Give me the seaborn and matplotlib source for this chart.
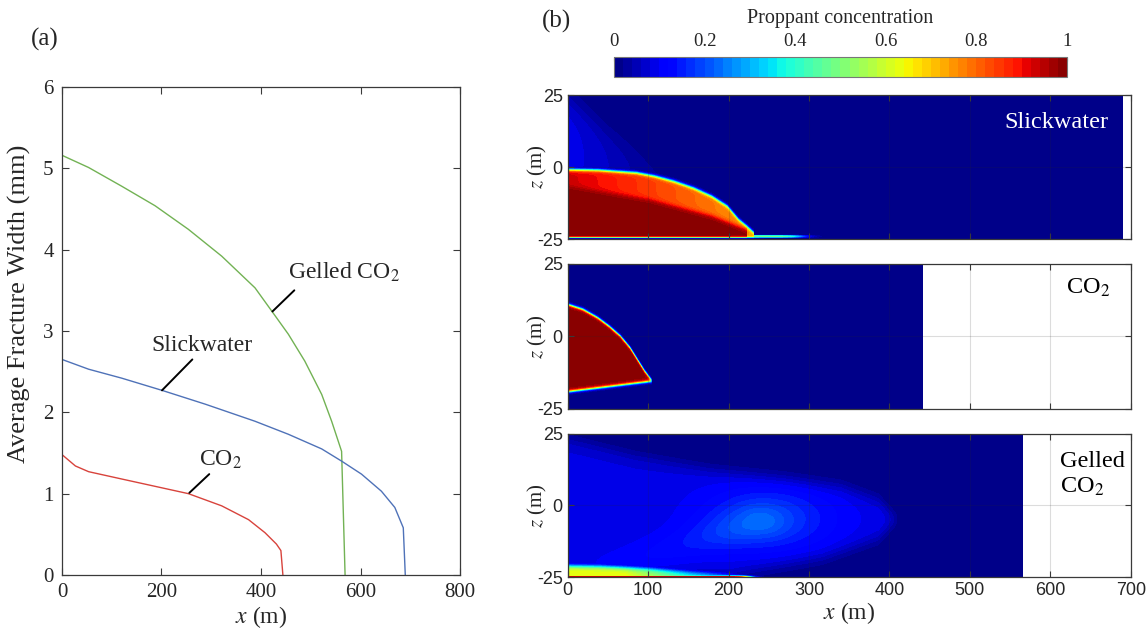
import numpy as np
import pandas as pd
import matplotlib
matplotlib.use("Agg")
import matplotlib.pyplot as plt
import seaborn as sns

# ---------------- panel (a) data ----------------
gel_x = [0, 53.5, 120, 187, 254, 321, 388, 421, 455, 488, 522, 542, 555, 562, 569]
gel_w = [5.16, 5.01, 4.78, 4.54, 4.25, 3.92, 3.53, 3.25, 2.96, 2.63, 2.22, 1.89, 1.65, 1.52, 0.0]
slick_x = [0, 53.5, 120, 201, 288, 388, 455, 522, 562, 602, 642, 669, 686, 690]
slick_w = [2.65, 2.53, 2.42, 2.27, 2.10, 1.89, 1.73, 1.55, 1.40, 1.24, 1.03, 0.83, 0.58, 0.0]
co2_x = [0, 27, 53.5, 120, 187, 254, 321, 375, 408, 431, 440, 444]
co2_w = [1.48, 1.34, 1.27, 1.18, 1.09, 1.00, 0.85, 0.68, 0.52, 0.38, 0.30, 0.0]

series_names = ["Gelled CO$_2$", "Slickwater", "CO$_2$"]
series_colors = ["#72b254", "#4f72b8", "#d8433c"]
label_xy = [(455, 3.72), (281, 2.82), (319, 1.41)]
leader_x = [[467, 423], [262, 201], [296, 256]]
leader_y = [[3.50, 3.24], [2.65, 2.27], [1.24, 1.01]]

# ---------------- panel (b) data ----------------
frac_len = [690, 441, 565]              # fracture lengths (m) in (b)
# slickwater proppant bank
sw_top_x = [0, 38, 85, 108, 132, 156, 179, 198, 205, 212, 222, 231]
sw_top_z = [-1.0, -1.2, -2.1, -3.3, -5.1, -7.4, -10.3, -13.7, -16.0, -18.3, -20.6, -22.9]
sw_core_x = [0, 101, 179, 222]
sw_core_z = [-6.8, -11.4, -17.1, -21.8]
sw_band_x = [0, 231]
sw_band_c = [0.93, 0.74]
sw_wedge_x = [0, 50, 100, 140]
sw_wedge_z = [24, 12, 3, -1]
# CO2 proppant bank
co_top_x = [0, 18.6, 37, 51, 65, 77, 86, 95, 104]
co_top_z = [10.9, 9.2, 6.3, 3.4, 0.0, -4.0, -8.0, -12.0, -15.3]
co_bot_x = [0, 104]
co_bot_z = [-18.9, -15.3]
# gelled CO2 suspended plume
ge_up_x = [0, 84, 177, 270, 340, 386, 409]
ge_up_z = [22.9, 17.1, 12.5, 9.6, 6.8, 2.1, -4.8]
ge_lo_x = [0, 200, 223, 316, 386, 409]
ge_lo_z = [-25, -25, -23.3, -18.6, -11.7, -4.8]
ge_plume_c = 0.085
ge_blob = dict(x=250, z=-4.5, sx=85, sz=12, c=0.095)
ge_tongue = dict(x0=40, z0=-23, x1=235, z1=-6, w=6.0, c=0.06)
ge_bed_x = [0, 40, 100, 150, 200, 230]
ge_bed_h = [3.8, 3.6, 2.8, 1.8, 0.9, 0.0]
ge_bed_cx = [0, 70, 110, 150, 200, 230]
ge_bed_c = [0.64, 0.64, 0.52, 0.38, 0.25, 0.1]

cb_ticks = [0, 0.2, 0.4, 0.6, 0.8, 1]
cb_labels = ["0", "0.2", "0.4", "0.6", "0.8", "1"]
panel_names = ["Slickwater", "CO$_2$", "Gelled\nCO$_2$"]

# ---------------- style ----------------
sns.set_style("ticks")
plt.rcParams["font.family"] = ["Liberation Serif", "DejaVu Serif"]
plt.rcParams["mathtext.fontset"] = "stix"
SANS = ["Liberation Sans", "DejaVu Sans"]
EDGE = "#3a3a3a"

fig = plt.figure(figsize=(11.48, 6.34), dpi=100)

# ---------------- panel (a) ----------------
axa = fig.add_axes([0.054, 0.0931, 0.3467, 0.7697])
frames = [pd.DataFrame({"x": gel_x, "w": gel_w}),
          pd.DataFrame({"x": slick_x, "w": slick_w}),
          pd.DataFrame({"x": co2_x, "w": co2_w})]
for df, col in zip(frames, series_colors):
    sns.lineplot(data=df, x="x", y="w", ax=axa, color=col, lw=1.0,
                 sort=False, estimator=None)
for name, (tx, ty), lx, ly in zip(series_names, label_xy, leader_x, leader_y):
    ha = "left" if name.startswith("Gelled") else "center"
    axa.text(tx, ty, name, ha=ha, va="center", fontsize=17)
    axa.plot(lx, ly, color="k", lw=1.4)
axa.set_xlim(0, 800)
axa.set_ylim(0, 6)
axa.set_xticks(range(0, 801, 200))
axa.set_yticks(range(0, 7))
axa.tick_params(direction="in", top=True, right=True, length=5,
                labelsize=15, color=EDGE, pad=6)
for s in axa.spines.values():
    s.set_color(EDGE)
    s.set_linewidth(0.9)
axa.set_xlabel("$x$ (m)", fontsize=17, labelpad=1)
axa.set_ylabel("Average Fracture Width (mm)", fontsize=19)
axa.yaxis.set_label_coords(-0.078, 0.555)
fig.text(0.039, 0.937, "(a)", fontsize=18, ha="center", va="center")
fig.text(0.485, 0.966, "(b)", fontsize=18, ha="center", va="center")

# ---------------- panel (b) fields ----------------
xg = np.linspace(0, 700, 1401)
zg = np.linspace(-25, 25, 401)
X, Z = np.meshgrid(xg, zg)


def sig(t):
    return 1.0 / (1.0 + np.exp(-np.clip(t, -60, 60)))


# slickwater
zt = np.interp(X, sw_top_x, sw_top_z, right=-40)
zc = np.interp(X, sw_core_x, sw_core_z, right=-40)
band = np.interp(X, sw_band_x, sw_band_c)
bank = sig((zt - Z) / 0.35) * sig((Z + 24.3) / 0.15)
val = band + (0.99 - band) * sig((zc - Z) / 0.5)
zw = np.interp(X, sw_wedge_x, sw_wedge_z, right=-40)
wedge = 0.11 * sig((zw - Z) / 3.0) * sig((60 - X) / 40)
stripe = 0.5 * np.exp(-((Z + 24.1) / 0.3) ** 2) * sig((290 - X) / 8)
f_sw = np.maximum(wedge * (1 - bank), bank * val)
f_sw = np.maximum(f_sw, stripe)

# CO2
zt2 = np.interp(X, co_top_x, co_top_z, right=-40)
zb2 = np.interp(X, co_bot_x, co_bot_z, right=40)
f_co = 0.99 * sig((zt2 - Z) / 0.3) * sig((Z - zb2) / 0.3)

# gelled CO2
zu = np.interp(X, ge_up_x, ge_up_z, right=-40)
zl = np.interp(X, ge_lo_x, ge_lo_z, right=40)
inside = sig((zu - Z) / 1.6) * sig((Z - zl) / 1.6)
plume = ge_plume_c * inside
blob = ge_blob["c"] * np.exp(-(((X - ge_blob["x"]) / ge_blob["sx"]) ** 2
                               + ((Z - ge_blob["z"]) / ge_blob["sz"]) ** 2))
tx0, tz0, tx1, tz1 = ge_tongue["x0"], ge_tongue["z0"], ge_tongue["x1"], ge_tongue["z1"]
sxs = 6.0
ax_, az_ = (tx1 - tx0) / sxs, (tz1 - tz0)
px_, pz_ = (X - tx0) / sxs, (Z - tz0)
tt = np.clip((px_ * ax_ + pz_ * az_) / (ax_ ** 2 + az_ ** 2), 0, 1)
dd = np.hypot(px_ - tt * ax_, pz_ - tt * az_)
tongue = ge_tongue["c"] * (0.4 + 0.6 * tt) * np.exp(-(dd / ge_tongue["w"]) ** 2)
bed_h = np.interp(X, ge_bed_x, ge_bed_h, right=0)
bed_c = np.interp(X, ge_bed_cx, ge_bed_c, right=0)
bed = bed_c * sig((-25 + bed_h - Z) / 0.55) * (bed_h > 0)
redline = 0.95 * sig((-24.7 - Z) / 0.08) * sig((225 - X) / 5)
f_ge = plume + (blob + tongue) * inside
f_ge = np.maximum(f_ge, bed)
f_ge = np.maximum(f_ge, redline)

fields = [f_sw, f_co, f_ge]
levels = np.linspace(0, 1, 51)

panel_rects = [[0.4945, 0.623, 0.4905, 0.227],
               [0.4945, 0.355, 0.4905, 0.2286],
               [0.4945, 0.0899, 0.4905, 0.2256]]
text_pos = [(672, 15.6, "right", "white"), (647, 16.7, "center", "black"),
            (612, 10.8, "left", "black")]
cs = None
for i, (rect, f, L) in enumerate(zip(panel_rects, fields, frac_len)):
    ax = fig.add_axes(rect)
    fm = np.ma.masked_where(X > L, np.clip(f, 0, 1))
    cs = ax.contourf(X, Z, fm, levels=levels, cmap="jet", vmin=0, vmax=1,
                     antialiased=False)
    ax.set_xlim(0, 700)
    ax.set_ylim(-25, 25)
    ax.set_xticks(range(0, 701, 100))
    ax.set_yticks([-25, 0, 25])
    ax.set_yticklabels(["-25", "0", "25"], family=SANS)
    ax.set_axisbelow(False)
    ax.grid(True, color="#262626", alpha=0.16, lw=0.8)
    ax.tick_params(direction="in", top=True, right=True, length=4,
                   labelsize=13, color=EDGE)
    for s in ax.spines.values():
        s.set_color(EDGE)
        s.set_linewidth(0.9)
    if i < 2:
        ax.set_xticklabels([])
    else:
        ax.set_xticklabels([str(v) for v in range(0, 701, 100)], family=SANS)
        ax.set_xlabel("$x$ (m)", fontsize=17, labelpad=1)
    ax.set_ylabel("$z$ (m)", fontsize=15, labelpad=-9)
    tx, tz, ha, col = text_pos[i]
    ax.text(tx, tz, panel_names[i], ha=ha, va="center", color=col,
            fontsize=17.5, linespacing=1.25)

# ---------------- colour bar ----------------
cax = fig.add_axes([0.5348, 0.8785, 0.3946, 0.0315])
cb = fig.colorbar(cs, cax=cax, orientation="horizontal")
cb.set_ticks(cb_ticks)
cb.set_ticklabels(cb_labels)
cax.xaxis.set_ticks_position("top")
cax.xaxis.set_label_position("top")
cax.tick_params(direction="in", length=3, labelsize=13.5, color="#555555", pad=5)
cb.outline.set_edgecolor("#777777")
cb.outline.set_linewidth(0.8)
fig.text(0.7317, 0.971, "Proppant concentration", ha="center", va="center",
         fontsize=14.5)

fig.savefig("out.png", dpi=100)
